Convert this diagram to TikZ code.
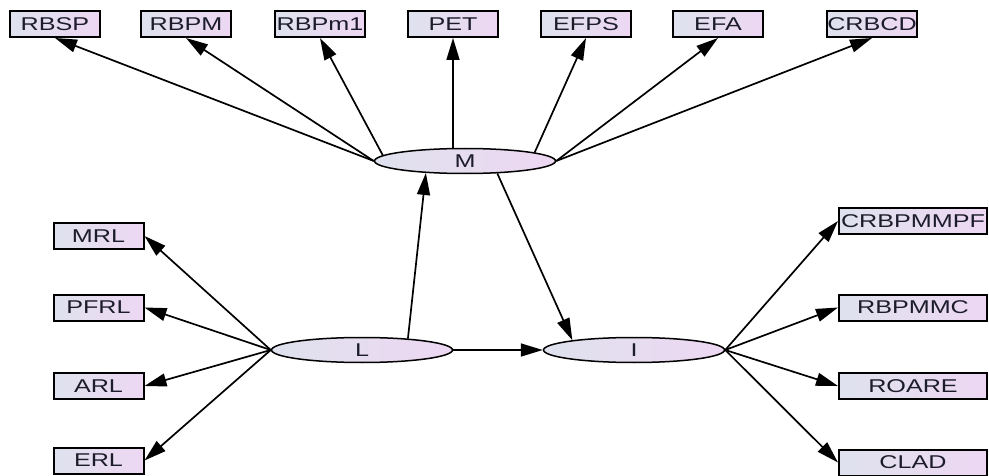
\documentclass[tikz,border=0pt]{standalone}
\usepackage{fontspec}
\setmainfont[FakeStretch=1.36]{Liberation Sans}
\usetikzlibrary{arrows.meta,shapes.geometric}
\definecolor{fillL}{HTML}{DFE2EE}
\definecolor{fillR}{HTML}{EDD7F2}
\definecolor{ink}{HTML}{1C1C2A}
\begin{document}
\begin{tikzpicture}[x=1pt,y=-1pt,
  lbl/.style={text=ink,font=\fontsize{18.5}{21}\selectfont},
  box/.style={lbl,rectangle,draw=black,line width=2pt,minimum width=90pt,
    minimum height=26pt,inner sep=0pt,left color=fillL,right color=fillR},
  widebox/.style={box,minimum width=148pt},
  latent/.style={lbl,ellipse,draw=black,line width=1.5pt,minimum width=181pt,
    minimum height=25pt,inner sep=0pt,left color=fillL,right color=fillR},
  link/.style={line width=1.7pt,-{Triangle[length=22pt,width=13pt]}}]
\useasboundingbox (0,0) rectangle (989,476);

% latent variables
\node[latent] (M) at (465,161) {M};
\node[latent] (L) at (362,350) {L};
\node[latent] (I) at (634,350) {I};

% indicators of M
\node[box] (RBSP)  at (55,24)  {RBSP};
\node[box] (RBPM)  at (186,24) {RBPM};
\node[box] (RBPm1) at (320,24) {RBPm1};
\node[box] (PET)   at (453,24) {PET};
\node[box] (EFPS)  at (586,24) {EFPS};
\node[box] (EFA)   at (718,24) {EFA};
\node[box] (CRBCD) at (872,24) {CRBCD};

% indicators of L
\node[box] (MRL)  at (98.5,236)   {MRL};
\node[box] (PFRL) at (98.5,307.5) {PFRL};
\node[box] (ARL)  at (98.5,386)   {ARL};
\node[box] (ERL)  at (98.5,460.5) {ERL};

% indicators of I
\node[widebox] (CRBPMMPF) at (913,221)   {CRBPMMPF};
\node[widebox] (RBPMMC)   at (913,307.5) {RBPMMC};
\node[widebox] (ROARE)    at (913,386)   {ROARE};
\node[widebox] (CLAD)     at (913,462.5) {CLAD};

% M to its indicators
\draw[link] (M.west) -- (RBSP.south);
\draw[link] (M.west) -- (RBPM.south);
\draw[link] (M.176) -- (RBPm1.south);
\draw[link] (PET.south |- M.north) -- (PET.south);
\draw[link] (M.7) -- (EFPS.south);
\draw[link] (M.east) -- (EFA.south);
\draw[link] (M.east) -- (CRBCD.south);

% L to its indicators
\draw[link] (L.west) -- (MRL.east);
\draw[link] (L.west) -- (PFRL.east);
\draw[link] (L.west) -- (ARL.east);
\draw[link] (L.west) -- (ERL.east);

% I to its indicators
\draw[link] (I.east) -- (CRBPMMPF.west);
\draw[link] (I.east) -- (RBPMMC.west);
\draw[link] (I.east) -- (ROARE.west);
\draw[link] (I.east) -- (CLAD.west);

% structural paths
\draw[link] (L.14) -- (M.197);
\draw[link] (M.-21) -- (I.171);
\draw[link] (L.east) -- (I.west);
\end{tikzpicture}
\end{document}
